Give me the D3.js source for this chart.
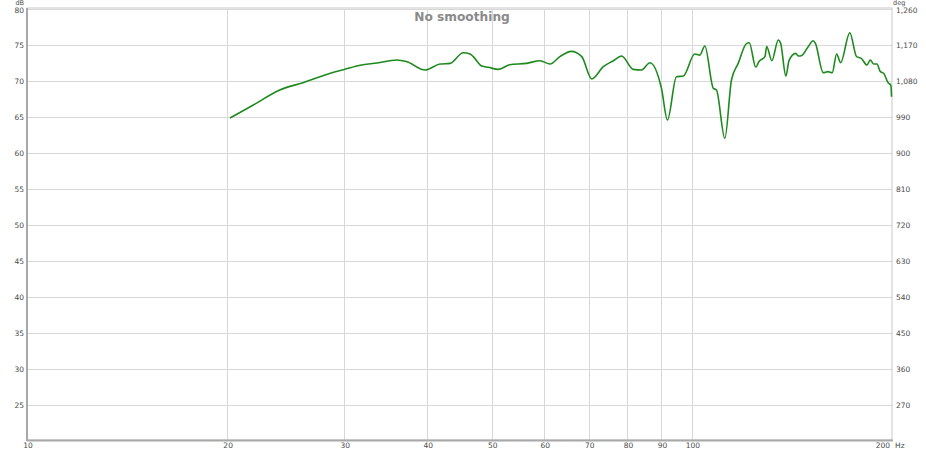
<!DOCTYPE html>
<html><head><meta charset="utf-8">
<script src="https://cdn.jsdelivr.net/npm/d3@7"></script>
<style>body{margin:0;background:#fff}svg{display:block}text{font-family:"DejaVu Sans",Verdana,sans-serif}</style>
</head><body>
<svg id="c" width="926" height="451"></svg>
<script>
const freqs = [20.2,21.9,24.0,26.0,28.6,30.0,31.7,33.6,36.0,37.2,39.7,41.8,43.3,45.3,46.4,46.9,48.3,49.4,51.2,53.2,56.4,59.1,61.2,63.3,65.9,68.3,70.7,73.6,76.2,78.4,81.6,84.0,86.5,90.0,91.9,94.8,97.1,101.0,102.8,104.6,107.7,108.9,112.1,114.7,117.4,120.9,122.0,124.8,126.1,128.8,129.6,131.9,134.9,136.0,138.5,140.0,143.2,144.7,146.1,149.6,152.2,153.4,157.6,160.2,162.6,165.1,167.4,172.8,176.9,179.8,183.4,185.5,187.6,189.8,192.1,194.3,197.3,199.2,199.7];
const dbValues = [64.86,66.67,68.75,69.77,71.07,71.6,72.2,72.5,72.92,72.7,71.53,72.36,72.45,73.93,73.75,73.38,72.08,71.9,71.62,72.26,72.45,72.82,72.36,73.38,74.12,73.38,70.28,71.99,72.82,73.47,71.62,71.53,72.54,68.99,64.58,70.6,70.69,73.75,73.6,74.86,68.99,68.75,62.04,70.14,72.45,75.23,75.32,71.9,72.68,73.38,74.77,72.82,75.69,75.23,70.69,72.82,73.84,73.47,73.5,74.77,75.6,75.23,71.16,71.3,71.16,73.75,72.54,76.71,73.38,73.15,72.22,72.92,72.36,72.36,71.3,71.07,69.77,69.4,67.8];
const xTicks = [10,20,30,40,50,60,70,80,90,100,200];
const yTicks = [25,30,35,40,45,50,55,60,65,70,75,80];
const degTicks = [270,360,450,540,630,720,810,900,990,1080,1170,1260];

const svg = d3.select("#c");
const L=27,R=892,T=9,B=441;
const x = d3.scaleLog().domain([10,200]).range([L,R]);
const y = d3.scaleLinear().domain([20,80]).range([B,T]);
const yDeg = d3.scaleLinear().domain([180,1260]).range([B,T]);

// grid
svg.append("g").selectAll("line").data(yTicks).join("line")
  .attr("x1",L).attr("x2",R).attr("y1",d=>y(d)+0.5).attr("y2",d=>y(d)+0.5)
  .attr("stroke","#d8d8d8").attr("stroke-width",1);
svg.append("g").selectAll("line").data(xTicks.filter(d=>d>10&&d<200)).join("line")
  .attr("x1",d=>Math.round(x(d))+0.5).attr("x2",d=>Math.round(x(d))+0.5).attr("y1",T).attr("y2",B)
  .attr("stroke","#d8d8d8").attr("stroke-width",1);

// frame
svg.append("rect").attr("x",L).attr("y",T-1).attr("width",R-L).attr("height",B-T)
  .attr("fill","none").attr("stroke","#c8c8c8").attr("stroke-width",1);
svg.append("line").attr("x1",L).attr("x2",L).attr("y1",T-1).attr("y2",B).attr("stroke","#a8a8a8").attr("stroke-width",2);
svg.append("line").attr("x1",L).attr("x2",R+1).attr("y1",B-0.5).attr("y2",B-0.5).attr("stroke","#a8a8a8").attr("stroke-width",2);

// title
svg.append("text").attr("x",462).attr("y",21).attr("text-anchor","middle")
  .attr("font-size",12.2).attr("font-weight","bold").attr("fill","#8a8a8a").text("No smoothing");

// left axis labels
const lab = svg.append("g").attr("font-size",7.5).attr("fill","#4a4a4a");
lab.selectAll(".yl").data(yTicks).join("text").attr("class","yl")
  .attr("x",L-3).attr("y",d=>y(d)+(d===80?4:3)).attr("text-anchor","end").text(d=>d);
lab.append("text").attr("x",L-3).attr("y",5).attr("font-size",6.5).attr("text-anchor","end").text("dB");
// right axis labels
lab.selectAll(".dl").data(degTicks).join("text").attr("class","dl")
  .attr("x",R+4).attr("y",d=>yDeg(d)+(d===1260?4:3)).attr("text-anchor","start").text(d=>d3.format(",")(d));
lab.append("text").attr("x",R+1).attr("y",5).attr("font-size",6.5).attr("text-anchor","start").text("deg");
// bottom labels
lab.selectAll(".xl").data(xTicks.filter(d=>d<200)).join("text").attr("class","xl")
  .attr("x",d=>x(d)+1).attr("y",448).attr("text-anchor","middle").text(d=>d);
lab.append("text").attr("x",x(200)-2).attr("y",448).attr("text-anchor","end").text("200");
lab.append("text").attr("x",x(200)+3).attr("y",448).attr("text-anchor","start").text("Hz");

// curve
const pts = freqs.map((f,i)=>[f,dbValues[i]]);
const line = d3.line().x(d=>x(d[0])).y(d=>y(d[1])).curve(d3.curveMonotoneX);
svg.append("path").attr("d",line(pts)).attr("fill","none")
  .attr("stroke","#1e8a1e").attr("stroke-width",1.6).attr("stroke-linejoin","round");
</script>
</body></html>
